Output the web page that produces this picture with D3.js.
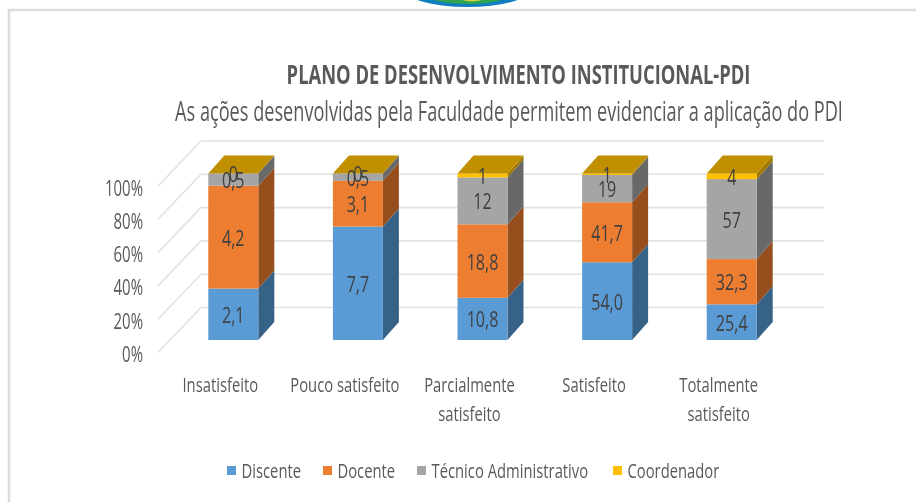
<!DOCTYPE html>
<html>
<head>
<meta charset="utf-8">
<script src="https://cdn.jsdelivr.net/npm/d3@7"></script>
<style>
  html, body { margin: 0; padding: 0; background: #fff; overflow: hidden; }
  svg { filter: blur(0.35px); }
  text { font-family: "Open Sans", sans-serif; fill: #595959; }
</style>
</head>
<body>
<svg id="chart" width="916" height="502"></svg>
<script>
const categories = [["Insatisfeito"], ["Pouco satisfeito"], ["Parcialmente", "satisfeito"], ["Satisfeito"], ["Totalmente", "satisfeito"]];
const seriesNames = ["Discente", "Docente", "Técnico Administrativo", "Coordenador"];
const discente = [2.1, 7.7, 10.8, 54.0, 25.4];
const docente = [4.2, 3.1, 18.8, 41.7, 32.3];
const tecnico = [0.5, 0.5, 12, 19, 57];
const coordenador = [0, 0, 1, 1, 4];
const seriesLabels = [
    ["2,1", "7,7", "10,8", "54,0", "25,4"],
    ["4,2", "3,1", "18,8", "41,7", "32,3"],
    ["0,5", "0,5", "12", "19", "57"],
    ["0", "0", "1", "1", "4"]
];
const yTicks = [0, 0.2, 0.4, 0.6, 0.8, 1];

const frontColors = ["#5b9bd5", "#ed7d31", "#a5a5a5", "#ffc000"];
const sideColors = ["#376287", "#964f1c", "#686868", "#a17900"];
const topColor = "#c09000";

const svg = d3.select("#chart");

// oblique offsets of the fake 3D box
const barDepth = { x: 16, y: -18 };
const wall = { x: 43, y: -45 };

const xScale = d3.scaleBand().domain(d3.range(categories.length)).range([170.9, 794.1]).paddingInner(0.5987).paddingOuter(0.3);
const yScale = d3.scaleLinear().domain([0, 1]).range([340, 173.5]);

// the reference text is a squeezed Calibri, so Open Sans gets narrowed horizontally
function squeezedText(parent, x, y, str, size, squeeze, anchor) {
    return parent.append("text")
        .attr("transform", `translate(${x},${y}) scale(${squeeze},1)`)
        .attr("text-anchor", anchor || "middle")
        .attr("font-size", size)
        .text(str);
}

// frame + logo peeking in from the page above
svg.append("path").attr("d", "M9,502V10H916").attr("fill", "none").attr("stroke", "#dcdcdc").attr("stroke-width", 2.5);
const logo = svg.append("g");
logo.append("ellipse").attr("cx", 467.5).attr("cy", -10).attr("rx", 62).attr("ry", 17).attr("fill", "#0f7fc0");
logo.append("ellipse").attr("cx", 468).attr("cy", -10).attr("rx", 48).attr("ry", 14).attr("fill", "#2fa350");
logo.append("ellipse").attr("cx", 472).attr("cy", -10).attr("rx", 20).attr("ry", 11.5).attr("fill", "#c8d24a");

// gridlines: floor/side diagonal then back wall
const floorX = 158;
const grid = svg.append("g").attr("fill", "none").attr("stroke", "#e2e2e2").attr("stroke-width", 1.6);
yTicks.forEach((t) => {
    const y0 = yScale(t) + 12.5;
    grid.append("path").attr("d", d3.line()([[floorX, y0], [floorX + wall.x, y0 + wall.y], [824, y0 + wall.y]]));
});

// y axis labels
const yLabels = svg.append("g");
yTicks.forEach((t) => {
    squeezedText(yLabels, 143, yScale(t) + 22, `${Math.round(t * 100)}%`, 22, 0.68, "end");
});

const stacked = categories.map((c, i) => {
    const vals = [discente[i], docente[i], tecnico[i], coordenador[i]];
    const total = d3.sum(vals);
    let acc = 0;
    return vals.map((v, s) => {
        const seg = { i, s, y0: acc / total, y1: (acc + v) / total, label: seriesLabels[s][i] };
        acc += v;
        return seg;
    });
});

const bars = svg.append("g");
stacked.forEach((segs, i) => {
    const x0 = xScale(i);
    const w = xScale.bandwidth();
    const g = bars.append("g");
    segs.forEach((d) => {
        const yb = yScale(d.y0);
        const yt = yScale(d.y1);
        g.append("path")
            .attr("d", d3.line()([[x0 + w, yb], [x0 + w + barDepth.x, yb + barDepth.y], [x0 + w + barDepth.x, yt + barDepth.y], [x0 + w, yt]]) + "Z")
            .attr("fill", sideColors[d.s]);
        g.append("rect")
            .attr("x", x0).attr("y", yt).attr("width", w).attr("height", yb - yt)
            .attr("fill", frontColors[d.s]);
    });
    const yt = yScale(1);
    g.append("path")
        .attr("d", d3.line()([[x0, yt], [x0 + barDepth.x, yt + barDepth.y], [x0 + w + barDepth.x, yt + barDepth.y], [x0 + w, yt]]) + "Z")
        .attr("fill", topColor);
});

// value labels sit on top of everything
const labels = svg.append("g");
stacked.flat().forEach((d) => {
    squeezedText(labels, xScale(d.i) + xScale.bandwidth() / 2, (yScale(d.y0) + yScale(d.y1)) / 2 + 8.5, d.label, 22, 0.73)
        .style("fill", "#404040");
});

// category labels
const catLabels = svg.append("g");
categories.forEach((lines, i) => {
    lines.forEach((line, k) => {
        squeezedText(catLabels, xScale(i) + xScale.bandwidth() / 2 - 13, 392 + k * 29, line, 20, 0.74);
    });
});

squeezedText(svg, 518.5, 84, "PLANO DE DESENVOLVIMENTO INSTITUCIONAL-PDI", 26, 0.706).attr("font-weight", "bold");
squeezedText(svg, 509, 120.5, "As ações desenvolvidas pela Faculdade permitem evidenciar a aplicação do PDI", 27, 0.672);

// legend
const legendX = [227, 323, 417, 613];
const legend = svg.append("g");
seriesNames.forEach((name, i) => {
    legend.append("rect").attr("x", legendX[i]).attr("y", 466).attr("width", 9).attr("height", 9).attr("fill", frontColors[i]);
    squeezedText(legend, legendX[i] + 14.5, 477.5, name, 20, 0.74, "start");
});
</script>
</body>
</html>
